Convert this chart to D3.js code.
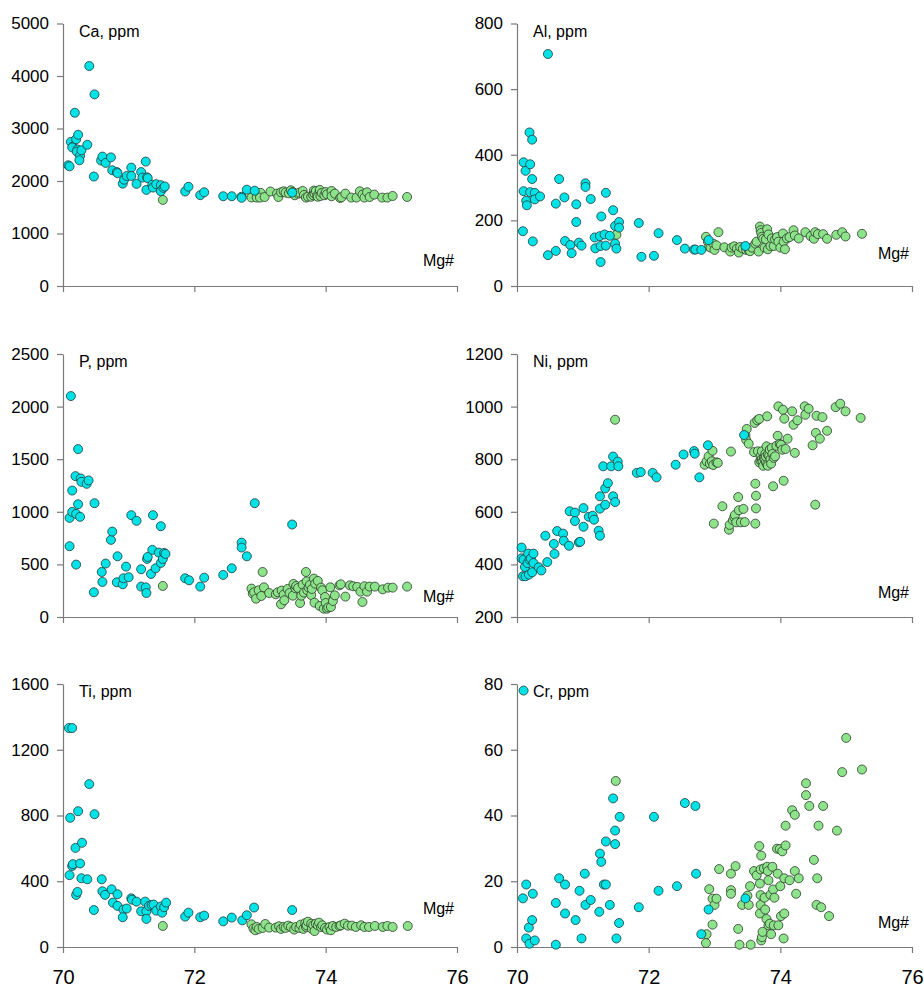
<!DOCTYPE html>
<html>
<head>
<meta charset="utf-8">
<script src="https://cdn.jsdelivr.net/npm/d3@7"></script>
<style>
  body { margin: 0; background: #fff; }
  svg text { font-family: "Liberation Sans", Arial, sans-serif; }
</style>
</head>
<body>
<div id="plot"></div>
<script>
// x axis (Mg#) shared by all panels
const xTicks = [70, 72, 74, 76];

// Ca, ppm
const caTicks = [0, 1000, 2000, 3000, 4000, 5000];
const caCyan = [[70.08,2300],[70.10,2280],[70.12,2745],[70.15,2655],[70.14,2640],[70.18,3300],[70.2,2795],[70.23,2880],[70.22,2600],[70.21,2560],[70.26,2480],[70.25,2395],[70.28,2585],[70.37,2690],[70.40,4190],[70.48,3650],[70.47,2085],[70.58,2390],[70.60,2465],[70.65,2345],[70.73,2450],[70.75,2205],[70.82,2170],[70.83,2150],[70.91,1950],[70.93,2025],[70.97,2095],[71.04,2255],[71.04,2095],[71.12,1945],[71.19,2170],[71.21,2065],[71.26,2370],[71.28,2070],[71.29,2055],[71.27,1830],[71.36,1930],[71.37,1875],[71.42,1940],[71.49,1920],[71.49,1805],[71.53,1870],[71.55,1895],[71.86,1800],[71.91,1890],[72.09,1730],[72.15,1785],[72.44,1710],[72.57,1710],[72.72,1700],[72.72,1680],[72.80,1835],[72.92,1815],[73.49,1780]];
const caGreen = [[71.52,1640],[72.87,1685],[72.95,1684],[73.01,1775],[73.0,1684],[73.07,1695],[73.16,1800],[73.26,1760],[73.28,1696],[73.32,1785],[73.36,1804],[73.39,1779],[73.44,1766],[73.47,1823],[73.5,1790],[73.53,1728],[73.58,1760],[73.6,1780],[73.65,1811],[73.67,1734],[73.70,1684],[73.73,1702],[73.78,1700],[73.81,1728],[73.82,1817],[73.83,1760],[73.85,1810],[73.87,1722],[73.88,1700],[73.91,1830],[73.92,1715],[73.94,1772],[73.98,1728],[74.0,1790],[74.02,1747],[74.09,1811],[74.09,1709],[74.14,1760],[74.22,1677],[74.24,1690],[74.30,1760],[74.39,1684],[74.47,1684],[74.52,1804],[74.56,1741],[74.59,1684],[74.63,1785],[74.67,1696],[74.74,1741],[74.86,1684],[74.94,1684],[75.02,1715],[75.24,1696]];

// Al, ppm
const alTicks = [0, 200, 400, 600, 800];
const alCyan = [[70.09,167],[70.10,289],[70.10,377],[70.13,351],[70.14,260],[70.15,246],[70.19,468],[70.20,371],[70.20,286],[70.23,446],[70.23,326],[70.24,136],[70.27,284],[70.27,264],[70.35,273],[70.47,707],[70.47,94],[70.59,251],[70.59,107],[70.64,326],[70.72,270],[70.73,137],[70.81,125],[70.83,100],[70.90,249],[70.90,195],[70.94,132],[70.98,123],[71.04,313],[71.04,302],[71.12,265],[71.18,148],[71.19,115],[71.28,212],[71.26,152],[71.27,122],[71.27,73],[71.33,157],[71.35,123],[71.35,284],[71.41,153],[71.46,231],[71.49,183],[71.49,129],[71.51,114],[71.55,195],[71.55,178],[71.85,192],[71.89,89],[72.08,92],[72.15,161],[72.43,140],[72.55,114],[72.69,111],[72.71,111],[72.80,110],[72.91,140],[73.47,122]];
const alGreen = [[71.51,156],[72.87,150],[72.90,135],[72.92,120],[72.94,117],[72.98,129],[73.0,110],[73.03,124],[73.06,164],[73.15,118],[73.24,105],[73.26,117],[73.30,121],[73.34,114],[73.37,102],[73.39,119],[73.43,114],[73.48,110],[73.52,109],[73.54,106],[73.57,117],[73.62,129],[73.64,135],[73.67,105],[73.69,181],[73.70,170],[73.71,162],[73.72,150],[73.74,144],[73.76,117],[73.78,142],[73.80,173],[73.81,112],[73.82,157],[73.85,122],[73.87,145],[73.90,122],[73.92,142],[73.95,149],[73.97,135],[74.0,117],[74.04,160],[74.05,135],[74.07,112],[74.10,145],[74.14,149],[74.20,170],[74.22,154],[74.28,145],[74.38,164],[74.46,152],[74.51,144],[74.53,164],[74.57,158],[74.65,158],[74.71,144],[74.85,156],[74.94,164],[74.99,151],[75.24,159]];

// P, ppm
const pTicks = [0, 500, 1000, 1500, 2000, 2500];
const pCyan = [[70.12,2100],[70.10,673],[70.10,942],[70.14,999],[70.14,1202],[70.19,1339],[70.20,980],[70.20,498],[70.23,1596],[70.23,1072],[70.26,952],[70.27,1317],[70.28,1285],[70.36,1266],[70.39,1298],[70.47,235],[70.48,1082],[70.59,428],[70.60,333],[70.65,508],[70.73,733],[70.75,812],[70.82,330],[70.83,577],[70.91,311],[70.92,368],[70.96,479],[71.0,378],[71.04,968],[71.12,914],[71.19,454],[71.19,289],[71.26,282],[71.27,228],[71.28,552],[71.29,571],[71.34,409],[71.36,638],[71.37,968],[71.41,463],[71.46,612],[71.49,863],[71.49,514],[71.52,552],[71.54,609],[71.56,600],[71.86,368],[71.92,349],[72.09,289],[72.15,374],[72.44,400],[72.57,463],[72.72,707],[72.72,660],[72.80,577],[72.92,1082],[73.49,879]];
const pGreen = [[71.52,295],[72.87,270],[72.89,222],[72.91,235],[72.94,174],[72.98,254],[73.02,200],[73.04,428],[73.06,282],[73.14,228],[73.24,216],[73.27,235],[73.32,121],[73.33,251],[73.36,213],[73.37,159],[73.42,266],[73.45,228],[73.50,203],[73.51,314],[73.54,273],[73.55,295],[73.58,276],[73.61,133],[73.63,203],[73.65,308],[73.67,232],[73.70,428],[73.71,339],[73.72,254],[73.74,282],[73.76,305],[73.78,209],[73.79,266],[73.82,365],[73.83,136],[73.84,317],[73.88,343],[73.91,105],[73.93,279],[73.95,254],[73.97,79],[73.99,190],[74.0,133],[74.02,79],[74.04,92],[74.07,282],[74.08,95],[74.11,152],[74.14,206],[74.21,301],[74.23,311],[74.30,194],[74.37,301],[74.42,292],[74.48,286],[74.53,241],[74.56,143],[74.59,292],[74.63,241],[74.67,289],[74.75,289],[74.87,263],[74.95,279],[75.02,279],[75.24,289]];

// Ni, ppm
const niTicks = [200, 400, 600, 800, 1000, 1200];
const niCyan = [[70.07,464],[70.07,423],[70.10,418],[70.09,355],[70.12,390],[70.13,355],[70.16,405],[70.17,441],[70.18,361],[70.19,418],[70.21,423],[70.23,370],[70.25,441],[70.25,405],[70.33,389],[70.37,377],[70.43,509],[70.46,409],[70.56,478],[70.57,440],[70.61,527],[70.70,517],[70.71,490],[70.79,471],[70.80,602],[70.88,597],[70.88,565],[70.94,484],[70.96,486],[71.01,543],[71.01,614],[71.09,581],[71.15,585],[71.17,570],[71.24,528],[71.26,509],[71.26,659],[71.26,612],[71.31,773],[71.34,627],[71.34,689],[71.38,709],[71.43,773],[71.46,810],[71.46,659],[71.49,637],[71.53,791],[71.54,773],[71.82,748],[71.88,751],[72.06,748],[72.12,731],[72.41,779],[72.53,818],[72.69,831],[72.70,821],[72.77,731],[72.90,853],[73.45,892]];
const niGreen = [[71.49,950],[72.85,779],[72.88,792],[72.91,811],[72.93,783],[72.96,792],[72.97,832],[72.98,778],[73.03,788],[73.05,786],[73.12,621],[72.99,555],[73.22,532],[73.23,550],[73.25,829],[73.28,568],[73.30,579],[73.31,588],[73.33,560],[73.36,656],[73.37,606],[73.40,560],[73.44,611],[73.46,561],[73.47,892],[73.48,874],[73.49,915],[73.52,859],[73.60,827],[73.61,938],[73.62,707],[73.63,661],[73.63,613],[73.62,555],[73.65,948],[73.66,830],[73.68,953],[73.68,788],[73.70,811],[73.70,795],[73.72,801],[73.72,830],[73.73,790],[73.74,775],[73.75,805],[73.76,800],[73.77,820],[73.78,789],[73.78,810],[73.79,849],[73.80,963],[73.80,780],[73.81,817],[73.81,775],[73.83,813],[73.84,836],[73.85,800],[73.86,783],[73.87,843],[73.88,820],[73.89,697],[73.90,805],[73.92,811],[73.94,851],[73.96,889],[73.97,1001],[73.99,858],[74.01,855],[74.03,836],[74.04,988],[74.05,718],[74.06,954],[74.08,839],[74.11,878],[74.18,982],[74.20,931],[74.22,824],[74.26,948],[74.37,1001],[74.38,969],[74.43,992],[74.49,853],[74.53,627],[74.54,900],[74.55,965],[74.60,878],[74.64,960],[74.71,908],[74.84,998],[74.91,1011],[74.99,982],[75.22,957]];

// Ti, ppm
const tiTicks = [0, 400, 800, 1200, 1600];
const tiCyan = [[70.09,1332],[70.14,1332],[70.11,786],[70.10,437],[70.14,493],[70.15,504],[70.19,603],[70.20,317],[70.22,335],[70.23,826],[70.26,508],[70.28,418],[70.29,634],[70.37,412],[70.40,991],[70.47,225],[70.48,808],[70.59,412],[70.60,339],[70.64,317],[70.74,351],[70.76,270],[70.83,321],[70.83,250],[70.92,227],[70.91,181],[70.97,234],[71.04,296],[71.05,288],[71.12,276],[71.19,217],[71.25,276],[71.27,217],[71.27,171],[71.31,250],[71.35,256],[71.38,258],[71.42,221],[71.49,246],[71.51,209],[71.54,242],[71.57,270],[71.86,185],[71.91,209],[72.09,181],[72.15,191],[72.44,156],[72.57,179],[72.73,162],[72.80,193],[72.91,240],[73.49,225]];
const tiGreen = [[71.52,128],[72.87,138],[72.90,112],[72.93,102],[72.95,122],[72.98,110],[73.04,116],[73.08,140],[73.14,118],[73.24,118],[73.29,126],[73.32,110],[73.36,122],[73.39,116],[73.43,130],[73.47,122],[73.52,106],[73.55,122],[73.60,116],[73.62,136],[73.66,110],[73.69,146],[73.70,122],[73.71,132],[73.73,154],[73.78,142],[73.79,110],[73.81,132],[73.83,97],[73.85,142],[73.88,132],[73.90,148],[73.93,122],[73.95,132],[73.99,116],[74.02,106],[74.06,122],[74.08,102],[74.11,128],[74.16,122],[74.21,128],[74.23,132],[74.29,142],[74.34,130],[74.40,130],[74.46,122],[74.54,132],[74.59,122],[74.66,122],[74.75,128],[74.87,122],[74.94,128],[75.02,122],[75.25,128]];

// Cr, ppm
const crTicks = [0, 20, 40, 60, 80];
const crCyan = [[70.10,78],[70.09,14.8],[70.14,19],[70.14,2.6],[70.18,5.9],[70.19,1.0],[70.23,8.2],[70.24,16.2],[70.27,2.0],[70.59,13.4],[70.59,0.7],[70.64,20.9],[70.73,19],[70.73,10.2],[70.89,8.2],[70.95,17.1],[70.98,2.6],[71.03,22.3],[71.04,12.8],[71.12,14.3],[71.25,10.7],[71.26,28.4],[71.28,25.9],[71.32,19],[71.35,19],[71.35,32.1],[71.41,12.8],[71.46,45.2],[71.49,35.4],[71.49,31.3],[71.51,2.6],[71.55,7.3],[71.56,39.6],[71.85,12.1],[72.08,39.6],[72.15,17.1],[72.43,18.5],[72.55,43.8],[72.71,42.9],[72.72,22.3],[72.80,3.9],[72.91,11.4],[73.47,14.8]];
const crGreen = [[71.50,50.5],[72.87,1.2],[72.88,3.9],[72.92,17.6],[72.97,14.7],[72.97,6.8],[73.00,12.8],[73.03,14.7],[73.07,23.7],[73.25,22.3],[73.25,17.3],[73.25,16.2],[73.32,24.6],[73.36,5.5],[73.38,0.7],[73.42,12.8],[73.50,15.6],[73.52,12.8],[73.54,18.5],[73.55,0.7],[73.60,23.1],[73.64,21.8],[73.68,30.7],[73.69,19.3],[73.69,10.2],[73.70,23.6],[73.70,15.8],[73.71,27.8],[73.70,12.8],[73.71,2.0],[73.72,3.0],[73.73,4.6],[73.75,23.9],[73.76,15.0],[73.77,11.4],[73.79,8.5],[73.80,24.4],[73.81,23.1],[73.82,20.3],[73.82,6.6],[73.84,7.1],[73.85,15.9],[73.86,3.9],[73.88,24.4],[73.89,17.5],[73.90,6.6],[73.91,15.0],[73.95,29.9],[73.96,22.3],[73.97,6.6],[73.99,29.8],[74.0,18.5],[74.01,9.4],[74.03,29.1],[74.06,20.9],[74.06,10.2],[74.05,2.6],[74.08,36.9],[74.08,30.9],[74.14,20.3],[74.18,41.6],[74.22,40.2],[74.22,23.1],[74.24,16.2],[74.28,20.9],[74.39,49.8],[74.39,46.2],[74.44,42.9],[74.51,26.5],[74.55,12.8],[74.56,20.9],[74.58,36.9],[74.62,12.1],[74.65,42.9],[74.74,9.4],[74.86,35.4],[74.94,53.2],[75.0,63.6],[75.24,54.0]];

const cyanColor = "#00e3e6";
const greenColor = "#8de389";

const width = 924, height = 987;
const cols = [[63, 457], [517, 912]];
const rows = [[286, 23.5], [617, 354], [947, 684]];

const panels = [
  {label: "Ca, ppm", ticks: caTicks, cyan: caCyan, green: caGreen, col: 0, row: 0, mgDy: 20},
  {label: "Al, ppm", ticks: alTicks, cyan: alCyan, green: alGreen, col: 1, row: 0, mgDy: 27},
  {label: "P, ppm", ticks: pTicks, cyan: pCyan, green: pGreen, col: 0, row: 1, mgDy: 15},
  {label: "Ni, ppm", ticks: niTicks, cyan: niCyan, green: niGreen, col: 1, row: 1, mgDy: 19},
  {label: "Ti, ppm", ticks: tiTicks, cyan: tiCyan, green: tiGreen, col: 0, row: 2, mgDy: 33},
  {label: "Cr, ppm", ticks: crTicks, cyan: crCyan, green: crGreen, col: 1, row: 2, mgDy: 19}
];

const svg = d3.select("#plot").append("svg")
  .attr("width", width)
  .attr("height", height);

panels.forEach(p => {
  const xRange = cols[p.col];
  const yRange = rows[p.row];

  const xScaler = d3.scaleLinear().domain([70, 76]).range(xRange);
  const yScaler = d3.scaleLinear()
    .domain([p.ticks[0], p.ticks[p.ticks.length - 1]])
    .range(yRange);

  const g = svg.append("g");

  // axes
  const yAxisGenerator = d3.axisLeft(yScaler)
    .tickValues(p.ticks).tickSize(6).tickSizeOuter(0).tickPadding(8)
    .tickFormat(d3.format("d"));
  const xAxisGenerator = d3.axisBottom(xScaler)
    .tickValues(xTicks).tickSize(6).tickSizeOuter(0)
    .tickFormat(p.row === 2 ? d3.format("d") : "");

  const yAxis = g.append("g")
    .attr("transform", `translate(${xRange[0]},0)`)
    .call(yAxisGenerator);
  const xAxis = g.append("g")
    .attr("transform", `translate(0,${yRange[0]})`)
    .call(xAxisGenerator);

  [yAxis, xAxis].forEach(a => {
    a.select(".domain").attr("stroke", "#7a7a7a").attr("stroke-width", 1.2);
    a.selectAll(".tick line").attr("stroke", "#7a7a7a").attr("stroke-width", 1.2);
    a.selectAll(".tick text").attr("fill", "#000");
  });
  yAxis.selectAll(".tick text").style("font-size", "17px");
  xAxis.selectAll(".tick text").style("font-size", "20px").attr("y", 0).attr("dy", "1.85em");

  // points: green first, cyan on top
  g.append("g").selectAll("circle")
    .data(p.green)
    .join("circle")
    .attr("cx", d => xScaler(d[0]))
    .attr("cy", d => yScaler(d[1]))
    .attr("r", 4.5)
    .attr("fill", greenColor)
    .attr("stroke", "#2b3a2b")
    .attr("stroke-width", 0.8);

  g.append("g").selectAll("circle")
    .data(p.cyan)
    .join("circle")
    .attr("cx", d => xScaler(d[0]))
    .attr("cy", d => yScaler(d[1]))
    .attr("r", 4.5)
    .attr("fill", cyanColor)
    .attr("stroke", "#1d3a3a")
    .attr("stroke-width", 0.8);

  // labels
  g.append("text")
    .attr("x", xRange[0] + 16)
    .attr("y", yRange[1] + 13)
    .style("font-size", "16px")
    .text(p.label);

  g.append("text")
    .attr("x", xRange[1] - 3)
    .attr("y", yRange[0] - p.mgDy)
    .attr("text-anchor", "end")
    .style("font-size", "16px")
    .text("Mg#");
});
</script>
</body>
</html>
